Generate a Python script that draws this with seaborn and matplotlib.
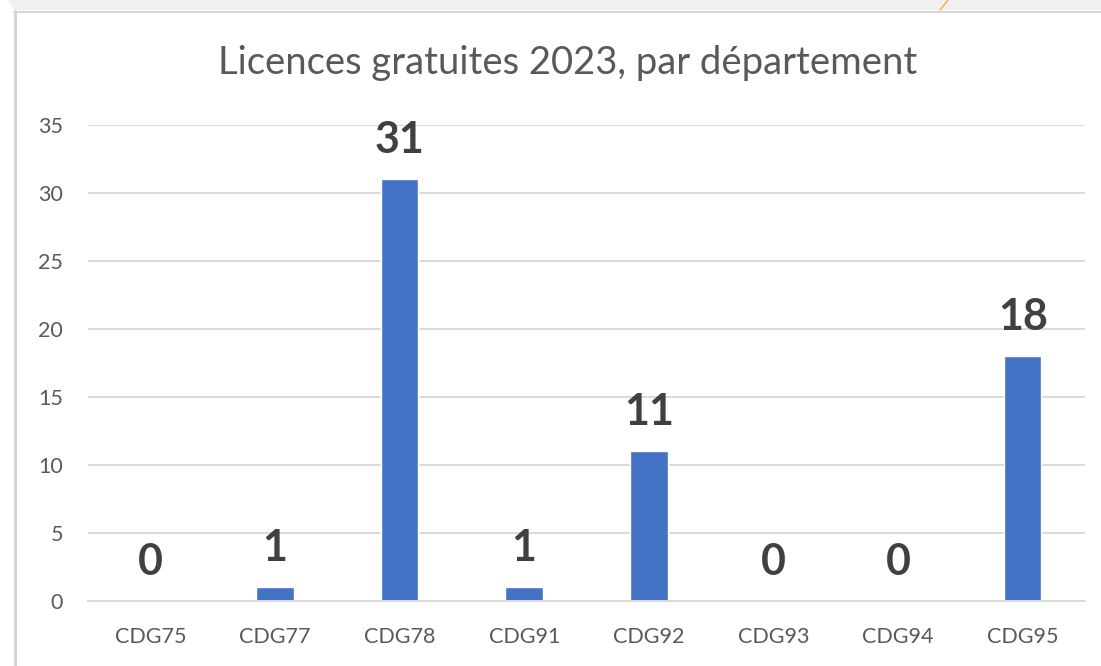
import matplotlib
matplotlib.use("Agg")
import matplotlib.pyplot as plt
import seaborn as sns
from matplotlib.lines import Line2D
from matplotlib.patches import Polygon

departements = ["CDG75", "CDG77", "CDG78", "CDG91", "CDG92", "CDG93", "CDG94", "CDG95"]
licences = [0, 1, 31, 1, 11, 0, 0, 18]
yticks = [0, 5, 10, 15, 20, 25, 30, 35]
titre = "Licences gratuites 2023, par département"

sns.set_theme(style="white")
plt.rcParams["font.family"] = ["Lato", "DejaVu Sans"]

W, H = 1101, 666
fig = plt.figure(figsize=(W / 100, H / 100), dpi=100)
fig.patch.set_facecolor("white")

# screenshot frame: grey band on top, thin borders
band = Polygon([(8 / W, 1), (1, 1), (1, 1 - 10 / H), (14 / W, 1 - 10 / H)],
               closed=True, transform=fig.transFigure, facecolor="#f0f0f0",
               edgecolor="none")
fig.patches.append(band)
fig.lines.append(Line2D([14 / W, 1], [1 - 11.5 / H] * 2, transform=fig.transFigure,
                        color="#d6d6d6", lw=1.6))
fig.lines.append(Line2D([14.5 / W] * 2, [0, 1 - 11 / H], transform=fig.transFigure,
                        color="#d6d6d6", lw=2.2))
fig.lines.append(Line2D([940 / W, 948 / W], [1 - 10 / H, 1], transform=fig.transFigure,
                        color="#f2b134", lw=1.0))

ax = fig.add_axes([88 / W, 1 - 601 / H, (1085 - 88) / W, (601 - 125) / H])
ax.set_facecolor("white")

sns.barplot(x=departements, y=licences, color="#4472C4", saturation=1,
            width=0.3, ax=ax)

ax.set_xlim(-0.5, len(departements) - 0.5)
ax.set_ylim(0, 35)
ax.set_yticks(yticks)
ax.set_xlabel("")
ax.set_ylabel("")
ax.set_axisbelow(True)
ax.yaxis.grid(True, color="#d9d9d9", linewidth=1.4)
for side in ["top", "right", "left"]:
    ax.spines[side].set_visible(False)
ax.spines["bottom"].set_color("#d9d9d9")
ax.spines["bottom"].set_linewidth(1.4)
ax.tick_params(axis="both", length=0, colors="#595959", labelsize=15.5)
ax.tick_params(axis="y", pad=18)
ax.tick_params(axis="x", pad=19)

for i, v in enumerate(licences):
    ax.annotate(str(v), (i, v), xytext=(0, 19), textcoords="offset points",
                ha="center", va="baseline", fontsize=31, fontweight="bold",
                color="#404040")

fig.text(568 / W, 1 - 63 / H, titre, ha="center", va="center",
         fontsize=27.5, color="#595959")

fig.savefig("out.png", dpi=100)
